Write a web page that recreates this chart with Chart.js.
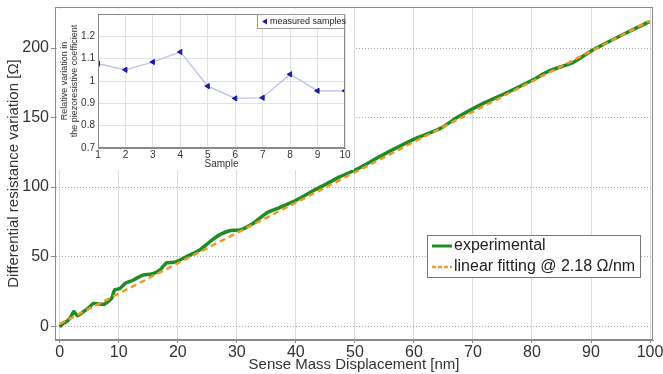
<!DOCTYPE html>
<html>
<head>
<meta charset="utf-8">
<script src="https://cdn.jsdelivr.net/npm/chart.js@4"></script>
<style>
    body { margin: 0; background: #fff; }
    #wrap { position: relative; width: 663px; height: 374px; }
    #main { position: absolute; left: 0; top: 0; }
    #inset { position: absolute; left: 58px; top: 9px; background: #fff; }
</style>
</head>
<body>
<div id="wrap">
    <canvas id="main" width="663" height="374"></canvas>
    <canvas id="inset" width="296" height="161"></canvas>
</div>
<script>
// main plot: displacement [nm] vs differential resistance [Ohm]
var expX = [0, 0.6, 1.1, 1.8, 2.4, 3.0, 4.0, 5.0, 5.7, 6.8, 7.6, 8.8, 9.3, 10.2, 11.0, 12.4, 14.1, 15.6,
    17.0, 18.1, 19.5, 21.5, 23.8, 26.0, 27.2, 28.9, 30.6, 32.8, 35.1, 36.8, 38.5, 40.7, 43.0, 45.3,
    47.5, 50.4, 54.9, 60.6, 64.5, 67.3, 71.9, 75.8, 80.1, 82.9, 86.9, 90.3, 95.0, 99.9];
var expY = [-0.5, 2, 3, 6, 10.5, 7.5, 10.3, 13.5, 16.3, 15.8, 15.8, 20, 26, 27, 30.5, 33, 36.7, 37.5,
    40.5, 45.5, 46, 50, 55, 62.5, 66, 68.8, 69.2, 74, 81.5, 84.5, 87.5, 92, 97.5, 102.5,
    107.5, 113, 123.5, 135.5, 142.2, 150, 160.5, 168, 177, 183.5, 189.5, 198.6, 208.8, 219];
var fitX = [0, 100];
var fitY = [1.6, 219.6];
var xTicks = [0, 10, 20, 30, 40, 50, 60, 70, 80, 90, 100];
var yTicks = [0, 50, 100, 150, 200];

// inset: relative variation of piezoresistive coefficient per sample
var sampleIds = [1, 2, 3, 4, 5, 6, 7, 8, 9, 10];
var piezoVariation = [1.078, 1.05, 1.085, 1.13, 0.977, 0.922, 0.925, 1.03, 0.956, 0.956];
var insetYTicks = [0.7, 0.8, 0.9, 1, 1.1, 1.2];

var FONT = "'Liberation Sans', Arial, sans-serif";
var GREEN = '#1e8c23';
var ORANGE = '#ec9a2a';

function toPoints(xs, ys) {
    return xs.map((x, i) => ({ x: x, y: ys[i] }));
}

var boxPlugin = {
    id: 'box',
    afterDraw: function(chart) {
        var a = chart.chartArea, ctx = chart.ctx;
        ctx.save();
        ctx.strokeStyle = '#8a8a8a';
        ctx.lineWidth = 1;
        ctx.setLineDash([]);
        ctx.strokeRect(a.left + 0.5, a.top + 0.5, a.right - a.left - 1, a.bottom - a.top - 1);
        ctx.restore();
    }
};

var mainLegend = {
    id: 'mainLegend',
    afterDraw: function(chart) {
        var ctx = chart.ctx;
        var x = 427, y = 235, w = 213, h = 42;
        ctx.save();
        ctx.fillStyle = '#fff';
        ctx.fillRect(x, y, w, h);
        ctx.strokeStyle = '#777';
        ctx.lineWidth = 1;
        ctx.strokeRect(x + 0.5, y + 0.5, w, h);
        var rows = [
            { label: chart.data.datasets[0].label, color: GREEN, dash: [], width: 3 },
            { label: chart.data.datasets[1].label, color: ORANGE, dash: [4, 2], width: 2.5 }
        ];
        ctx.font = '16px ' + FONT;
        ctx.textBaseline = 'middle';
        rows.forEach(function(r, i) {
            var ly = y + 11 + i * 21;
            ctx.strokeStyle = r.color;
            ctx.lineWidth = r.width;
            ctx.setLineDash(r.dash);
            ctx.beginPath();
            ctx.moveTo(x + 5, ly);
            ctx.lineTo(x + 25, ly);
            ctx.stroke();
            ctx.setLineDash([]);
            ctx.fillStyle = '#222';
            ctx.fillText(r.label, x + 27, ly);
        });
        ctx.restore();
    }
};

function fixHeight(h) {
    return function(scale) {
        scale.height = h;
        scale.paddingLeft = 0;
        scale.paddingRight = 0;
    };
}

function fixWidth(w) {
    return function(scale) {
        scale.width = w;
        scale.paddingTop = 0;
        scale.paddingBottom = 0;
    };
}

new Chart(document.getElementById('main').getContext('2d'), {
    type: 'scatter',
    data: {
        datasets: [{
            label: 'experimental',
            data: toPoints(expX, expY),
            showLine: true,
            borderColor: GREEN,
            borderWidth: 3.5,
            pointRadius: 0,
            tension: 0.2,
            order: 1
        }, {
            label: 'linear fitting @ 2.18 \u03A9/nm',
            data: toPoints(fitX, fitY),
            showLine: true,
            borderColor: ORANGE,
            borderWidth: 2.5,
            borderDash: [6, 4],
            pointRadius: 0,
            order: 0
        }]
    },
    options: {
        responsive: false,
        animation: false,
        devicePixelRatio: 1,
        layout: { padding: { top: 7, right: 10, left: 0, bottom: 0 } },
        plugins: {
            legend: { display: false },
            tooltip: { enabled: false }
        },
        scales: {
            x: {
                type: 'linear',
                min: -0.8,
                max: 100.5,
                afterBuildTicks: function(scale) {
                    scale.ticks = xTicks.map(v => ({ value: v }));
                },
                afterFit: fixHeight(34),
                ticks: { font: { size: 16, family: FONT }, color: '#333', padding: 0, maxRotation: 0 },
                grid: { color: '#dcdcdc', tickLength: 3, tickColor: '#8a8a8a' },
                border: { color: '#8a8a8a' },
                title: {
                    display: true,
                    text: 'Sense Mass Displacement [nm]',
                    font: { size: 15, family: FONT },
                    color: '#333',
                    padding: { top: 1, bottom: 0 }
                }
            },
            y: {
                min: -10,
                max: 229.5,
                afterBuildTicks: function(scale) {
                    scale.ticks = yTicks.map(v => ({ value: v }));
                },
                afterFit: fixWidth(55),
                ticks: { font: { size: 16, family: FONT }, color: '#333', padding: 2 },
                grid: { color: '#a8a8a8', tickLength: 4, tickColor: '#8a8a8a' },
                border: { color: '#8a8a8a', dash: [1, 2] },
                title: {
                    display: true,
                    text: 'Differential resistance variation [\u03A9]',
                    font: { size: 15, family: FONT },
                    color: '#333',
                    padding: { top: 5, bottom: 0 }
                }
            }
        }
    },
    plugins: [boxPlugin, mainLegend]
});

var insetLegend = {
    id: 'insetLegend',
    afterDraw: function(chart) {
        var ctx = chart.ctx;
        var x = 199, y = 5, w = 88, h = 14;
        ctx.save();
        ctx.fillStyle = '#fff';
        ctx.fillRect(x, y, w, h);
        ctx.strokeStyle = '#999';
        ctx.lineWidth = 1;
        ctx.strokeRect(x + 0.5, y + 0.5, w - 1, h);
        ctx.fillStyle = '#1a1aa8';
        ctx.beginPath();
        ctx.moveTo(x + 5, y + 7.5);
        ctx.lineTo(x + 10, y + 4.5);
        ctx.lineTo(x + 10, y + 10.5);
        ctx.closePath();
        ctx.fill();
        ctx.fillStyle = '#222';
        ctx.font = '9px ' + FONT;
        ctx.textBaseline = 'middle';
        ctx.fillText(chart.data.datasets[0].label, x + 13, y + 8);
        ctx.restore();
    }
};

new Chart(document.getElementById('inset').getContext('2d'), {
    type: 'line',
    data: {
        datasets: [{
            label: 'measured samples',
            data: toPoints(sampleIds, piezoVariation),
            borderColor: '#b4bcf2',
            borderWidth: 1.2,
            pointStyle: 'triangle',
            rotation: -90,
            pointRadius: 3,
            pointBackgroundColor: '#1a1aa8',
            pointBorderColor: '#1a1aa8',
            pointBorderWidth: 1
        }]
    },
    options: {
        responsive: false,
        animation: false,
        devicePixelRatio: 1,
        layout: { padding: { top: 5, right: 9, left: 0, bottom: 0 } },
        plugins: {
            legend: { display: false },
            tooltip: { enabled: false }
        },
        scales: {
            x: {
                type: 'linear',
                min: 1,
                max: 10,
                afterBuildTicks: function(scale) {
                    scale.ticks = sampleIds.map(v => ({ value: v }));
                },
                afterFit: fixHeight(22),
                ticks: { font: { size: 10, family: FONT }, color: '#333', padding: 1, maxRotation: 0 },
                grid: { color: '#e2e2e2', tickLength: 0 },
                border: { color: '#8a8a8a' },
                title: {
                    display: true,
                    text: 'Sample',
                    font: { size: 10, family: FONT },
                    color: '#333',
                    padding: { top: 0, bottom: 0 }
                }
            },
            y: {
                min: 0.7,
                max: 1.3,
                afterBuildTicks: function(scale) {
                    scale.ticks = insetYTicks.map(v => ({ value: v }));
                },
                afterFit: fixWidth(40),
                ticks: {
                    font: { size: 10, family: FONT },
                    color: '#333',
                    padding: 3,
                    callback: function(value) { return String(Math.round(value * 10) / 10); }
                },
                grid: { color: '#e2e2e2', tickLength: 0 },
                border: { color: '#8a8a8a' },
                title: {
                    display: true,
                    text: ['Relative variation in', 'the piezoresistive coefficient'],
                    font: { size: 9, family: FONT, lineHeight: 1.1 },
                    color: '#333',
                    padding: { top: 2, bottom: 0 }
                }
            }
        }
    },
    plugins: [boxPlugin, insetLegend]
});
</script>
</body>
</html>
